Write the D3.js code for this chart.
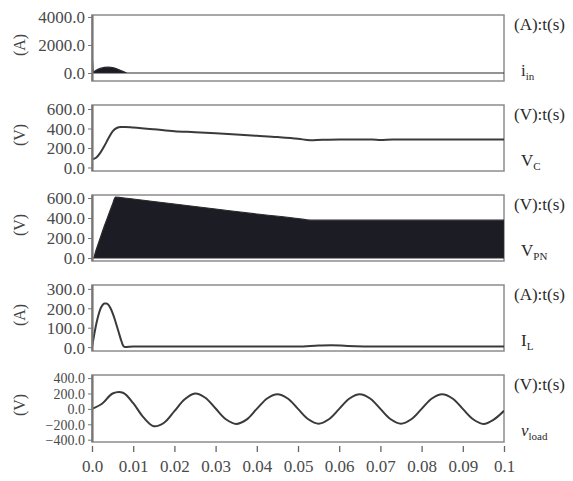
<!DOCTYPE html>
<html><head><meta charset="utf-8">
<script src="https://cdn.jsdelivr.net/npm/d3@7"></script>
<style>body{margin:0;background:#fff}svg{display:block}</style>
</head><body><svg id="c" width="573" height="481"></svg>
<script>
// ---- data ----
const xTicks = [0,0.01,0.02,0.03,0.04,0.05,0.06,0.07,0.08,0.09,0.1];
const xTickLabels = ["0.0","0.01","0.02","0.03","0.04","0.05","0.06","0.07","0.08","0.09","0.1"];

const iinT = [0,0.0001,0.0003,0.0006,0.001,0.002,0.003,0.004,0.005,0.006,0.007,0.008,0.0085,0.1];
const iinV = [0,1000,150,120,200,330,400,420,390,300,170,50,0,0];

const vcT = [0,0.001,0.002,0.003,0.004,0.005,0.006,0.007,0.008,0.01,0.015,0.02,0.025,0.03,0.035,0.04,0.045,0.05,0.053,0.056,0.06,0.068,0.07,0.073,0.1];
const vcV = [85,100,150,220,300,370,405,415,416,410,392,372,362,350,338,325,312,295,280,285,286,286,281,286,286];

const vpnT = [0,0.0003,0.001,0.002,0.003,0.004,0.005,0.0057,0.007,0.01,0.02,0.03,0.04,0.05,0.053,0.1];
const vpnV = [0,0,80,200,320,430,540,610,605,590,540,490,440,395,378,378];

const ilT = [0,0.0005,0.001,0.0015,0.002,0.0025,0.003,0.0035,0.004,0.0045,0.005,0.0055,0.006,0.0065,0.007,0.0075,0.008,0.01,0.03,0.05,0.055,0.058,0.062,0.07,0.1];
const ilV = [0,60,115,160,195,215,225,225,218,200,175,145,110,75,40,10,0,3,3,3,8,10,6,3,3];

const vlT = [0,0.0025,0.005,0.0075,0.01,0.0125,0.015,0.0175,0.02,0.0225,0.025,0.0275,0.03,0.0325,0.035,0.0375,0.04,0.0425,0.045,0.0475,0.05,0.0525,0.055,0.0575,0.06,0.0625,0.065,0.0675,0.07,0.0725,0.075,0.0775,0.08,0.0825,0.085,0.0875,0.09,0.0925,0.095,0.0975,0.1];
const vlV = [0,70,200,210,75,-110,-225,-180,-30,125,200,145,5,-135,-195,-140,0,135,190,135,0,-135,-192,-135,0,135,190,135,0,-135,-192,-135,0,135,190,135,0,-135,-195,-140,-25];

const unitLabels = ["(A)","(V)","(V)","(A)","(V)"];
const rightTop = ["(A):t(s)","(V):t(s)","(V):t(s)","(A):t(s)","(V):t(s)"];
const sigMain = ["i","V","V","I","v"];
const sigSub = ["in","C","PN","L","load"];
const yDomains = [[-570,4140],[-36,641],[-30,630],[-20,320],[-430,440]];
const yTicks = [[0,2000,4000],[0,200,400,600],[0,200,400,600],[0,100,200,300],[-400,-200,0,200,400]];

// ---- layout ----
const svg = d3.select("#c");
const L = 92, R = 504;
const tops = [15,105,195,285,375];
const hts = [66,66,66,66,67];
const x = d3.scaleLinear().domain([0,0.1]).range([L,R]);
const fmt = d3.format(".1f");
const serif = "'Liberation Serif','Times New Roman',serif";

const series = [
  {t:iinT,v:iinV,type:"area"},
  {t:vcT,v:vcV,type:"line"},
  {t:vpnT,v:vpnV,type:"area"},
  {t:ilT,v:ilV,type:"line"},
  {t:vlT,v:vlV,type:"curve"}
];

series.forEach((s,i)=>{
  const top = tops[i], h = hts[i];
  const y = d3.scaleLinear().domain(yDomains[i]).range([top+h, top]);
  const g = svg.append("g");
  g.append("rect").attr("x",L).attr("y",top).attr("width",R-L).attr("height",h)
    .attr("fill","#fff").attr("stroke","#8c8c8c").attr("stroke-width",1.5);
  const pts = s.t.map((t,k)=>[t,s.v[k]]);
  const clipId = "clip"+i;
  svg.append("clipPath").attr("id",clipId).append("rect")
    .attr("x",L).attr("y",top).attr("width",R-L).attr("height",h);
  const dg = g.append("g").attr("clip-path",`url(#${clipId})`);
  if(s.type==="area"){
    dg.append("path").datum(pts)
      .attr("d",d3.area().x(d=>x(d[0])).y0(y(0)).y1(d=>y(d[1])).curve(d3.curveMonotoneX))
      .attr("fill","#1c1d24").attr("stroke","#2a2a2e").attr("stroke-width",1.2);
  } else {
    dg.append("path").datum(pts)
      .attr("d",d3.line().x(d=>x(d[0])).y(d=>y(d[1])).curve(s.type==="curve"?d3.curveCatmullRom:d3.curveMonotoneX))
      .attr("fill","none").attr("stroke","#3a3a3a").attr("stroke-width",2);
  }
  const fs = i===4 ? 14 : 17;
  const ax = g.append("g").attr("transform",`translate(${L},0)`)
    .call(d3.axisLeft(y).tickValues(yTicks[i]).tickFormat(fmt).tickSize(4).tickPadding(3));
  ax.select(".domain").attr("stroke","#777").attr("stroke-width",2.2)
    .attr("d",`M0.5,${top}V${top+h}`);
  ax.selectAll(".tick line").attr("stroke","#777");
  ax.selectAll(".tick text").attr("font-family",serif).attr("font-size",fs)
    .attr("fill","#4a4a4a").attr("dy","0.35em");
  g.append("text").attr("transform",`translate(21,${top+30}) rotate(-90)`)
    .attr("text-anchor","middle").attr("dominant-baseline","middle")
    .attr("font-family",serif).attr("font-size",16).attr("fill","#444").text(unitLabels[i]);
  g.append("text").attr("x",514).attr("y",top+15).attr("font-family",serif)
    .attr("font-size",17).attr("fill","#2a2a2a").text(rightTop[i]);
  const sl = g.append("text").attr("x",521).attr("y",top+61).attr("font-family",serif)
    .attr("font-size",17).attr("fill","#2a2a2a");
  sl.append("tspan").text(sigMain[i]).attr("font-style",i===4?"italic":"normal");
  sl.append("tspan").text(sigSub[i]).attr("font-size",11).attr("dy",4);
});

const xa = svg.append("g").attr("transform",`translate(0,${446})`)
  .call(d3.axisBottom(x).tickValues(xTicks).tickFormat((d,k)=>xTickLabels[k]).tickSize(6).tickPadding(8));
xa.select(".domain").remove();
xa.selectAll(".tick line").attr("stroke","#666").attr("stroke-width",1.3);
xa.selectAll(".tick text").attr("font-family",serif).attr("font-size",17).attr("fill","#4a4a4a");
</script></body></html>
